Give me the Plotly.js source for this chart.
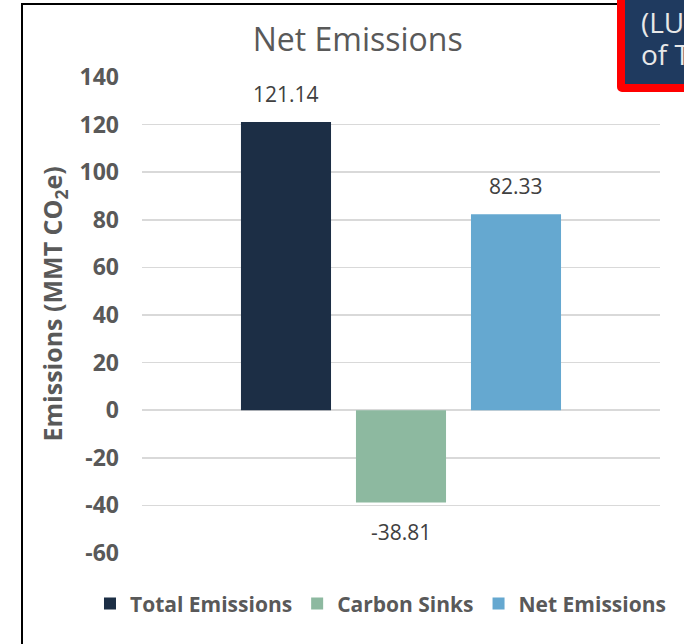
<!DOCTYPE html>
<html>
<head>
<meta charset="utf-8">
<script src="https://cdn.plot.ly/plotly-3.0.1.min.js"></script>
<style>
  html, body { margin: 0; padding: 0; background: #ffffff; }
  #wrap { position: relative; width: 684px; height: 644px; overflow: hidden; }
  #chart { position: absolute; left: 0; top: 0; width: 684px; height: 644px; }
  #frameLeft { position: absolute; left: 21px; top: 3px; width: 2px; height: 660px; background: #000; }
  #frameTop { position: absolute; left: 21px; top: 3px; width: 600px; height: 2px; background: #000; }
  #callout { position: absolute; left: 617px; top: -20px; width: 140px; height: 112px;
             background: #1f3a5f; border: 8px solid #ff0000; border-radius: 5px;
             color: #e8e8e8; font-family: "Open Sans", sans-serif; font-size: 28px;
             padding: 18px 0 0 16px; box-sizing: border-box; white-space: nowrap; overflow: hidden; }
  #callout div { height: 32px; line-height: 32px; }
</style>
</head>
<body>
<div id="wrap">
  <div id="chart"></div>
  <div id="frameLeft"></div>
  <div id="frameTop"></div>
  <div id="callout"><div>(LU</div><div>of T</div></div>
</div>
<script>
const categories = ["Total Emissions", "Carbon Sinks", "Net Emissions"];
const values = [121.14, -38.81, 82.33];
const labels = ["121.14", "-38.81", "82.33"];
const colors = ["#1c2e45", "#8db9a0", "#65a8d0"];
const yTicks = [-60, -40, -20, 0, 20, 40, 60, 80, 100, 120, 140];
const yTitle = "Emissions (MMT CO<sub>2</sub>e)";

const traces = categories.map((c, i) => ({
  type: "bar",
  name: c,
  x: [c],
  y: [values[i]],
  marker: { color: colors[i] },
  hoverinfo: "skip"
}));

const annotations = categories.map((c, i) => ({
  x: c, y: values[i], xref: "x", yref: "y",
  text: labels[i], showarrow: false,
  yanchor: values[i] >= 0 ? "bottom" : "top",
  yshift: values[i] >= 0 ? 12 : -13,
  font: { family: "Open Sans", size: 21, color: "#404040" }
}));

annotations.push({
  text: yTitle, showarrow: false, textangle: -90,
  xref: "paper", yref: "paper",
  x: -0.171, y: 0.523, xanchor: "center", yanchor: "middle",
  font: { family: "Open Sans", size: 25, color: "#595959", weight: "bold" }
});

const layout = {
  width: 684, height: 644,
  margin: { l: 142, r: 24, t: 77, b: 91 },
  paper_bgcolor: "rgba(0,0,0,0)",
  plot_bgcolor: "rgba(0,0,0,0)",
  barmode: "overlay",
  bargap: 0.217,
  showlegend: true,
  title: {
    text: "Net Emissions",
    x: 0.523, xref: "container", xanchor: "center",
    y: 0.938, yref: "container", yanchor: "middle",
    font: { family: "Open Sans", size: 32, color: "#595959" }
  },
  xaxis: {
    type: "category",
    categoryorder: "array",
    categoryarray: categories,
    range: [-1.252, 3.252],
    showticklabels: false,
    showgrid: false, zeroline: false, showline: false, ticks: ""
  },
  yaxis: {
    range: [-60, 140],
    tickvals: yTicks,
    ticktext: yTicks.map(String),
    showgrid: true, gridcolor: "#d9d9d9", gridwidth: 1.5,
    zeroline: false, showline: false, ticks: "",
    ticklabelstandoff: 22,
    tickfont: { family: "Open Sans", size: 23, color: "#595959", weight: "bold" }
  },
  legend: {
    orientation: "h",
    xref: "paper", yref: "paper",
    x: -0.1004, xanchor: "left",
    y: -0.107, yanchor: "middle",
    font: { family: "Open Sans", size: 21, color: "#595959", weight: "bold" },
    itemclick: false, itemdoubleclick: false,
    traceorder: "normal"
  },
  annotations: annotations
};

Plotly.newPlot("chart", traces, layout, { displayModeBar: false, staticPlot: true });
</script>
</body>
</html>
